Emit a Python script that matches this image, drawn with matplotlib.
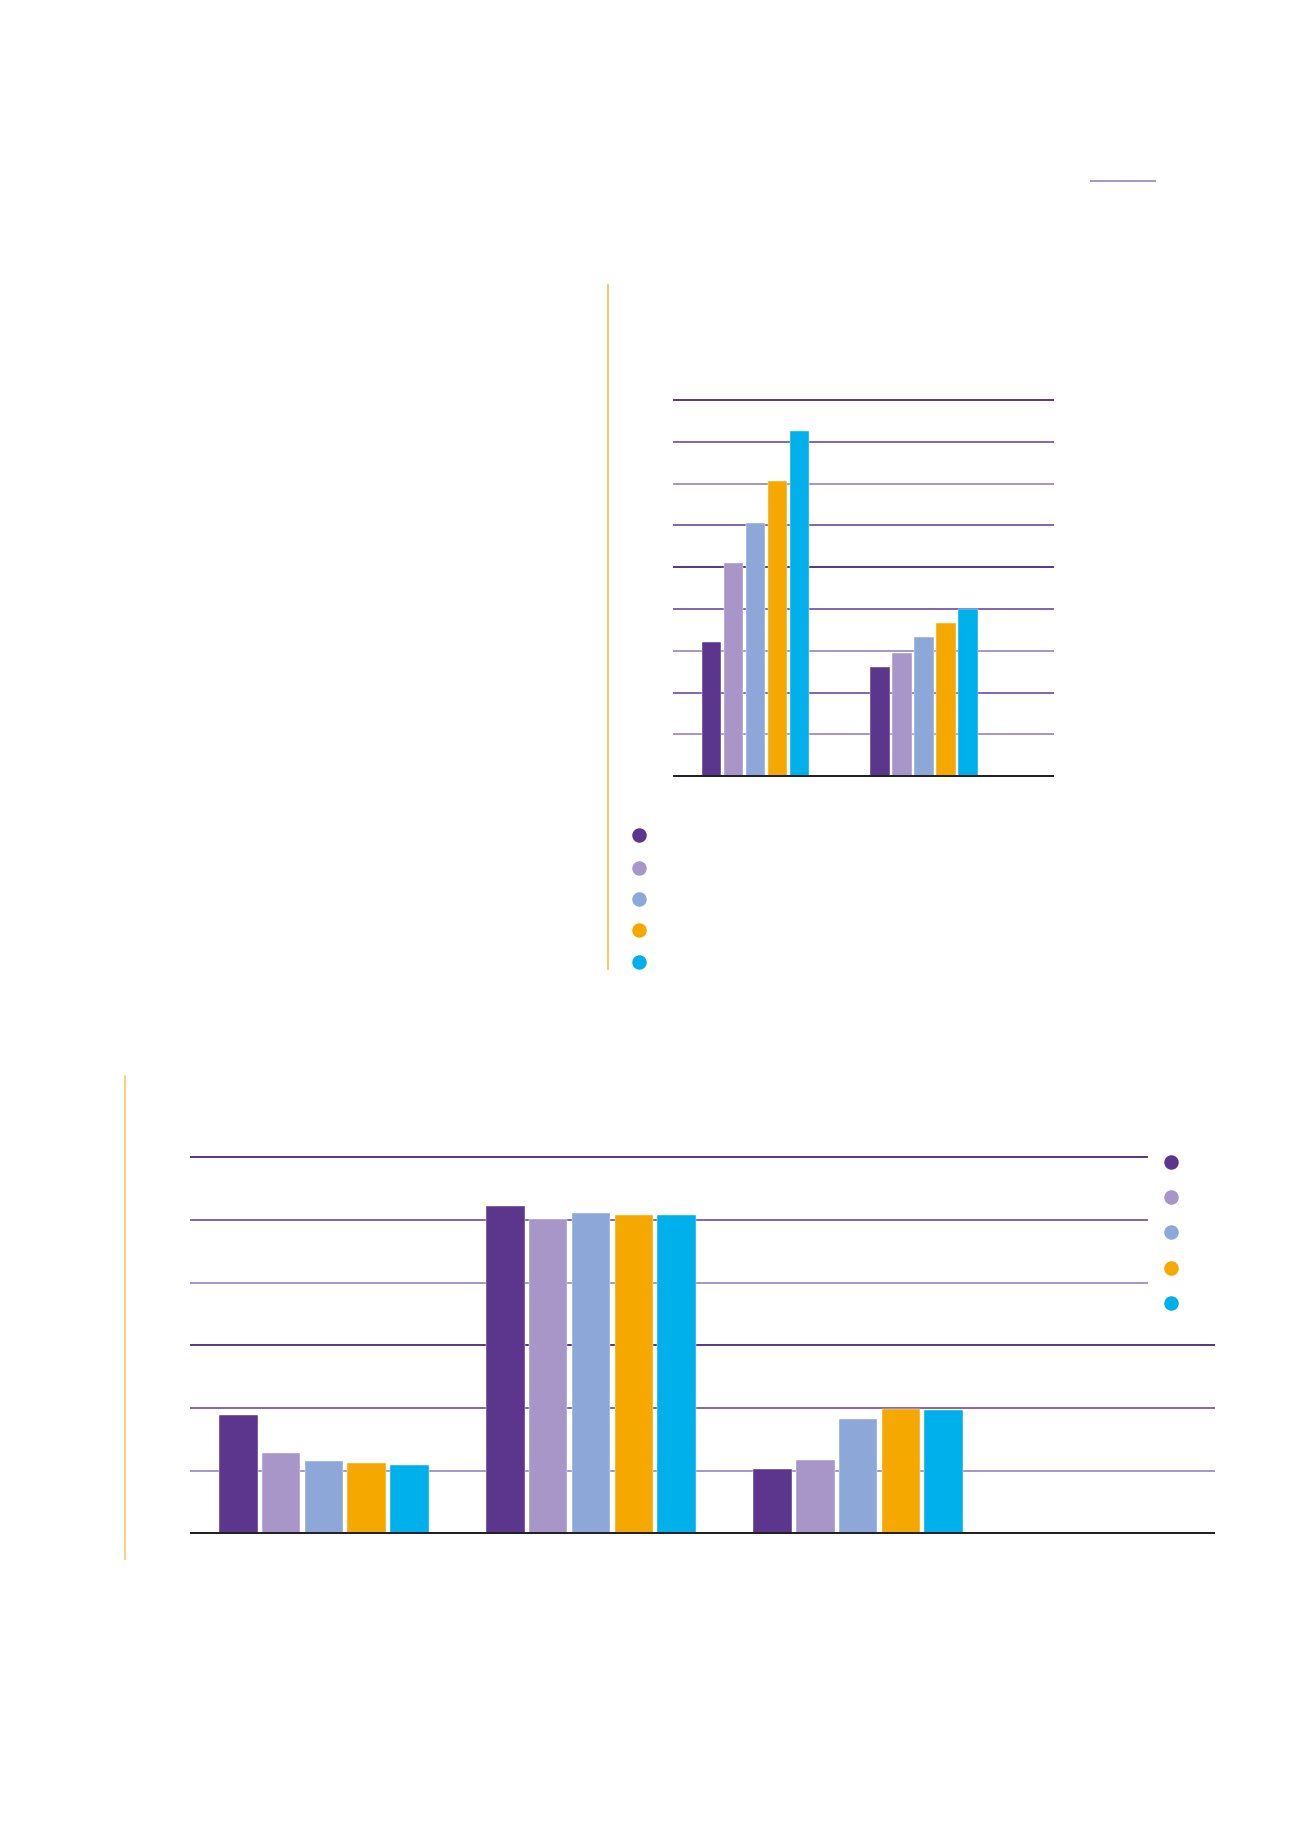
import matplotlib
matplotlib.use("Agg")
import matplotlib.pyplot as plt
from matplotlib.lines import Line2D
import numpy as np

# ---- data ----
series_colors = ["#5c368c", "#a896c8", "#8da8d8", "#f5a800", "#00b0ea"]

top_categories = ["A", "B"]
top_s1 = [3.20, 2.62]
top_s2 = [5.09, 2.95]
top_s3 = [6.06, 3.33]
top_s4 = [7.06, 3.67]
top_s5 = [8.25, 4.01]

bot_categories = ["A", "B", "C"]
bot_s1 = [1.88, 5.23, 1.02]
bot_s2 = [1.28, 5.01, 1.165]
bot_s3 = [1.15, 5.11, 1.82]
bot_s4 = [1.12, 5.08, 1.99]
bot_s5 = [1.085, 5.08, 1.97]

W, H = 1300, 1839
DPI = 100
fig = plt.figure(figsize=(W / DPI, H / DPI), dpi=DPI)
fig.patch.set_facecolor("white")


def rect(x0, y0, x1, y1):
    return [x0 / W, 1 - y1 / H, (x1 - x0) / W, (y1 - y0) / H]


def px2pt(p):
    return p * 72 / DPI


DARK = "#5b3a8a"
MED = "#8468b2"
LIGHT = "#a898c8"

# ---- top chart ----
ax1 = fig.add_axes(rect(674, 400.1, 1053, 776.1))
x = np.arange(len(top_categories))
bw, pitch = 0.117, 0.1306
top_series = [top_s1, top_s2, top_s3, top_s4, top_s5]
grid_cols_top = [None, LIGHT, MED, LIGHT, MED, DARK, MED, LIGHT, MED, DARK]
for lvl in range(1, 10):
    ax1.axhline(lvl, color=grid_cols_top[lvl], lw=px2pt(2), zorder=1, clip_on=False)
ax1.axhline(0, color="#222222", lw=px2pt(2), zorder=3, clip_on=False)
for i, s in enumerate(top_series):
    ax1.bar(x + (i - 2) * pitch, s, width=bw, color=series_colors[i], zorder=2,
            edgecolor="white", linewidth=0.3)
ax1.set_xlim(-0.484, 1.766)
ax1.set_ylim(0, 9)
ax1.axis("off")

# ---- bottom chart ----
ax2 = fig.add_axes(rect(190.7, 1157.3, 1214, 1533.3))
xb = np.arange(len(bot_categories))
bw2, pitch2 = 0.1438, 0.16
bot_series = [bot_s1, bot_s2, bot_s3, bot_s4, bot_s5]
grid_cols_bot = [None, LIGHT, MED, DARK, LIGHT, MED, DARK]
xmax_short = (1146.7 - 190.7) / (1214 - 190.7)
for lvl in range(1, 7):
    xm = xmax_short if lvl >= 4 else 1.0
    ax2.axhline(lvl, xmax=xm, color=grid_cols_bot[lvl], lw=px2pt(2), zorder=1, clip_on=False)
ax2.axhline(0, color="#222222", lw=px2pt(2), zorder=3, clip_on=False)
for i, s in enumerate(bot_series):
    ax2.bar(xb + (i - 2) * pitch2, s, width=bw2, color=series_colors[i], zorder=2,
            edgecolor="white", linewidth=0.3)
ax2.set_xlim(-0.499, 3.333)
ax2.set_ylim(0, 6)
ax2.axis("off")

# ---- decorations & legend dots (figure pixel coords) ----
ov = fig.add_axes([0, 0, 1, 1])
ov.set_xlim(0, W)
ov.set_ylim(H, 0)
ov.axis("off")
ov.patch.set_alpha(0)

# yellow rules
ov.add_line(Line2D([607.5, 607.5], [285, 969], color="#f8c870", lw=px2pt(2)))
ov.add_line(Line2D([125, 125], [1076, 1559], color="#fdcb70", lw=px2pt(1.8)))
# short purple rule at top
ov.add_line(Line2D([1091, 1155], [181, 181], color=LIGHT, lw=px2pt(2)))

top_leg_y = [835, 867.7, 898.7, 930.3, 962]
bot_leg_y = [1161.7, 1196.7, 1232.3, 1267.7, 1303]
for i, c in enumerate(series_colors):
    ov.plot([639.3], [top_leg_y[i]], marker="o", ms=px2pt(14.5), color=c, mec="none")
    ov.plot([1171], [bot_leg_y[i]], marker="o", ms=px2pt(14.5), color=c, mec="none")

fig.savefig("out.png", dpi=DPI, facecolor="white")
